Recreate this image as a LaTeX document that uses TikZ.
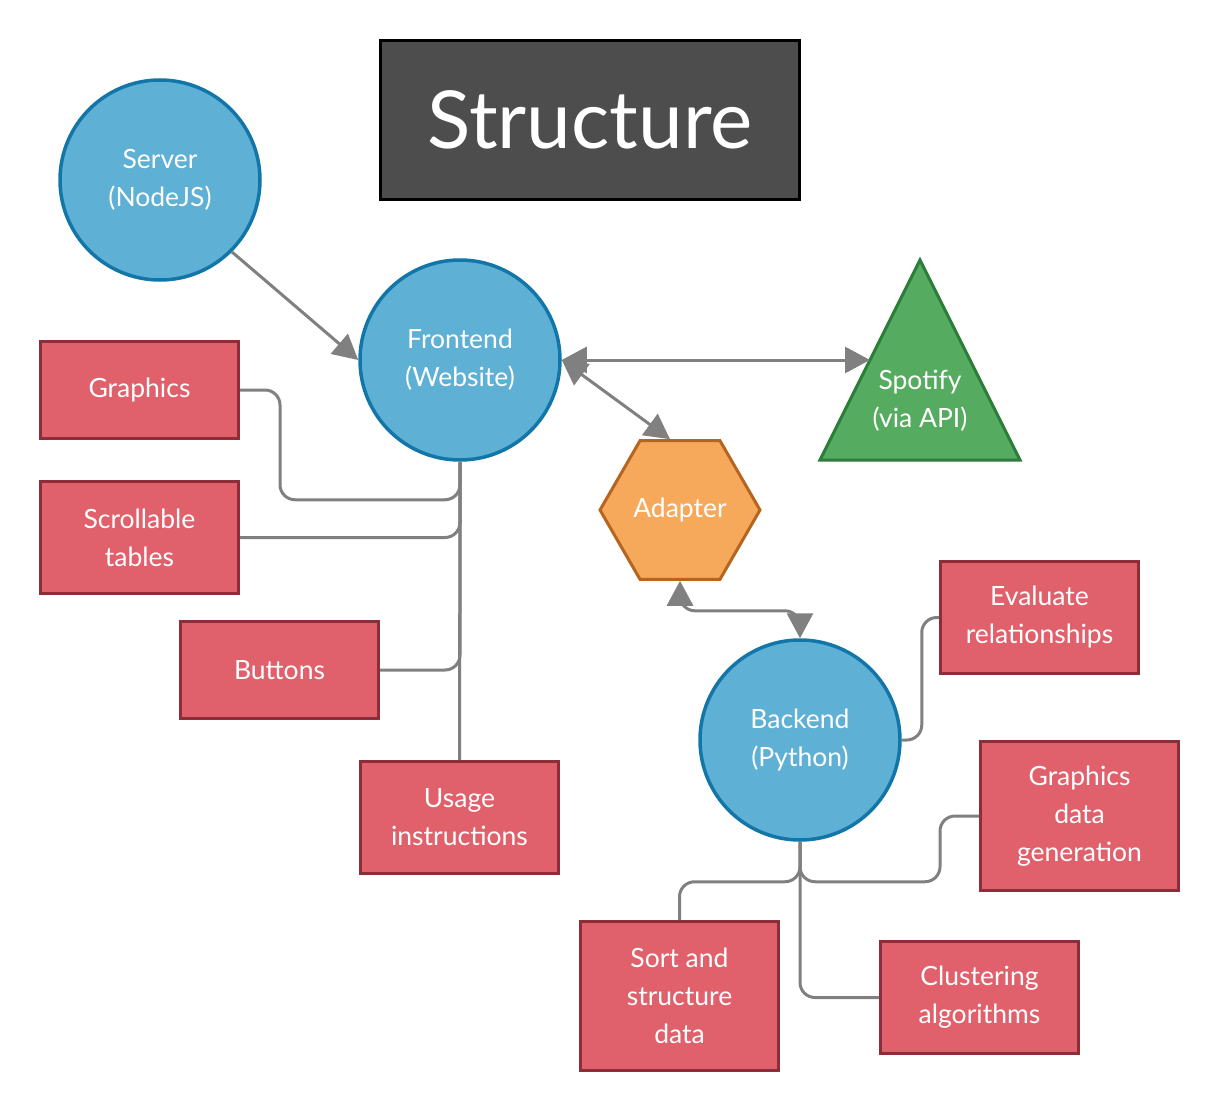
\documentclass[tikz,border=0pt]{standalone}
\usepackage{fontspec}
\setmainfont{Lato}
\usetikzlibrary{shapes.geometric,arrows.meta,calc}
\definecolor{circfill}{HTML}{5EB0D5}
\definecolor{circdraw}{HTML}{1277A8}
\definecolor{redfill}{HTML}{E0616B}
\definecolor{reddraw}{HTML}{8B2E38}
\definecolor{orangefill}{HTML}{F6A95B}
\definecolor{orangedraw}{HTML}{B5651D}
\definecolor{greenfill}{HTML}{55AB5F}
\definecolor{greendraw}{HTML}{2E7D3A}
\definecolor{titlefill}{HTML}{4D4D4D}
\definecolor{linegray}{HTML}{808080}
\begin{document}
\begin{tikzpicture}[x=1pt,y=-1pt,
  every node/.style={font=\fontsize{26.5}{38}\selectfont, text=white, align=center},
  circ/.style={circle, minimum size=200pt, inner sep=0pt, fill=circfill, draw=circdraw, line width=3.5pt},
  box/.style={rectangle, minimum width=198pt, minimum height=97pt, inner sep=0pt, fill=redfill, draw=reddraw, line width=3pt},
  tallbox/.style={box, minimum height=112pt},
  bigbox/.style={box, minimum height=149pt},
  hexa/.style={regular polygon, regular polygon sides=6, minimum size=160pt, inner sep=0pt, fill=orangefill, draw=orangedraw, line width=3pt},
  titlebox/.style={rectangle, minimum width=419pt, minimum height=158pt, fill=titlefill, draw=black, line width=3pt, font=\fontsize{80}{90}\selectfont},
  link/.style={draw=linegray, line width=3pt, rounded corners=15pt},
  onearrow/.style={link, -{Triangle[length=25pt,width=26pt]}},
  twoarrow/.style={link, {Triangle[length=25pt,width=26pt]}-{Triangle[length=25pt,width=26pt]}}
]
\useasboundingbox (0,0) rectangle (1221,1113);
\fill[white] (0,0) rectangle (1221,1113);

\node[titlebox] (title) at (590,120) {Structure};

\node[circ] (server) at (160,180) {Server\\(NodeJS)};
\node[circ] (frontend) at (460,360) {Frontend\\(Website)};
\node[circ] (backend) at (800,740) {Backend\\(Python)};

\draw[fill=greenfill, draw=greendraw, line width=3pt, line join=miter] (920,260) -- (1020,460) -- (820,460) -- cycle;
\node (spotify) at (920,401) {Spotify\\(via API)};
\coordinate (spotifyW) at (870,360);

\node[hexa] (adapter) at (680,510) {Adapter};

\node[box] (graphics) at (139.5,390) {Graphics};
\node[tallbox] (scroll) at (139.5,537.5) {Scrollable\\tables};
\node[box] (buttons) at (279.5,670) {Buttons};
\node[tallbox] (usage) at (459.5,817.5) {Usage\\instructions};

\node[tallbox] (evaluate) at (1039.5,617.5) {Evaluate\\relationships};
\node[bigbox] (gdg) at (1079.5,816) {Graphics\\data\\generation};
\node[bigbox] (sort) at (679.5,996) {Sort and\\structure\\data};
\node[tallbox] (cluster) at (979.5,997.5) {Clustering\\algorithms};

% arrows
\draw[onearrow] (server.-45) -- (frontend.west);
\draw[twoarrow] (frontend.east) -- (spotifyW);
\draw[twoarrow] (frontend.east) -- ([xshift=-10pt]adapter.north);
\draw[twoarrow] (adapter.south) -- ++(0,30) -| (backend.north);

% frontend tree
\draw[link] (graphics.east) -- ++(40,0) |- ($(frontend.south)+(0,38)$) -- (frontend.south);
\draw[link] (scroll.east) -| (frontend.south);
\draw[link] (buttons.east) -| (frontend.south);
\draw[link] (usage.north) -- (frontend.south);

% backend tree
\draw[link] (backend.east) -- ++(20,0) |- (evaluate.west);
\draw[link] (backend.south) -- ++(0,40) -| ($(gdg.west)+(-39,0)$) -- (gdg.west);
\draw[link] (backend.south) -- ++(0,40) -| (sort.north);
\draw[link] (backend.south) |- (cluster.west);
\end{tikzpicture}
\end{document}
